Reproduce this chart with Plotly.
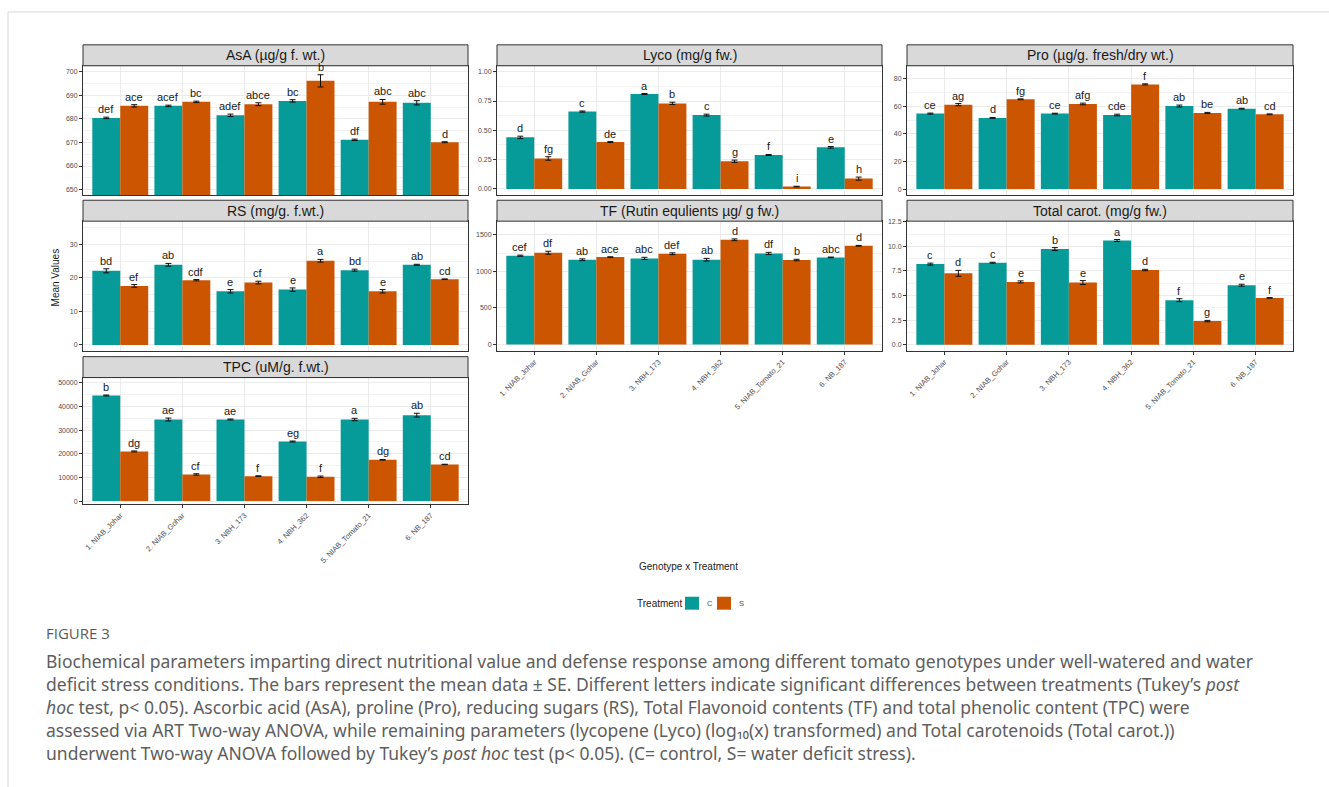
import plotly.graph_objects as go

# ---------------- data ----------------
genotypes = ["1. NIAB_Johar", "2. NIAB_Gohar", "3. NBH_173",
             "4. NBH_362", "5. NIAB_Tomato_21", "6. NB_187"]
treatments = ["C", "S"]

asa_c = [680.4, 685.5, 681.5, 687.6, 671.1, 686.8]
asa_s = [685.5, 687.2, 686.2, 696.1, 687.2, 670.1]
asa_c_se = [0.3, 0.3, 0.5, 0.5, 0.3, 0.9]
asa_s_se = [0.5, 0.3, 0.6, 2.6, 1.0, 0.2]
asa_c_let = ["def", "acef", "adef", "bc", "df", "abc"]
asa_s_let = ["ace", "bc", "abce", "b", "abc", "d"]

lyco_c = [0.44, 0.66, 0.81, 0.63, 0.29, 0.355]
lyco_s = [0.26, 0.40, 0.73, 0.236, 0.02, 0.088]
lyco_c_se = [0.01, 0.005, 0.004, 0.008, 0.004, 0.007]
lyco_s_se = [0.015, 0.004, 0.01, 0.01, 0.003, 0.013]
lyco_c_let = ["d", "c", "a", "c", "f", "e"]
lyco_s_let = ["fg", "de", "b", "g", "i", "h"]

pro_c = [54.7, 51.6, 54.7, 53.7, 60.2, 58.3]
pro_s = [61.2, 65.1, 61.7, 75.9, 55.2, 54.2]
pro_c_se = [0.4, 0.3, 0.3, 0.6, 0.7, 0.3]
pro_s_se = [0.8, 0.3, 0.6, 0.4, 0.4, 0.3]
pro_c_let = ["ce", "d", "ce", "cde", "ab", "ab"]
pro_s_let = ["ag", "fg", "afg", "f", "be", "cd"]

rs_c = [22.1, 23.9, 16.0, 16.5, 22.3, 23.9]
rs_s = [17.6, 19.3, 18.6, 25.1, 16.0, 19.6]
rs_c_se = [0.6, 0.4, 0.5, 0.5, 0.3, 0.15]
rs_s_se = [0.4, 0.2, 0.4, 0.4, 0.5, 0.1]
rs_c_let = ["bd", "ab", "e", "e", "bd", "ab"]
rs_s_let = ["ef", "cdf", "cf", "a", "e", "cd"]

tf_c = [1214, 1159, 1177, 1159, 1245, 1191]
tf_s = [1255, 1195, 1241, 1432, 1155, 1350]
tf_c_se = [8, 12, 15, 18, 15, 5]
tf_s_se = [20, 5, 12, 12, 10, 5]
tf_c_let = ["cef", "ab", "abc", "ab", "df", "abc"]
tf_s_let = ["df", "ace", "def", "d", "b", "d"]

carot_c = [8.2, 8.34, 9.73, 10.6, 4.53, 6.05]
carot_s = [7.26, 6.39, 6.32, 7.6, 2.4, 4.76]
carot_c_se = [0.1, 0.05, 0.15, 0.1, 0.15, 0.1]
carot_s_se = [0.3, 0.1, 0.2, 0.07, 0.07, 0.03]
carot_c_let = ["c", "c", "b", "a", "f", "e"]
carot_s_let = ["d", "e", "e", "d", "g", "f"]

tpc_c = [44650, 34500, 34500, 25200, 34500, 36340]
tpc_s = [21000, 11270, 10560, 10280, 17460, 15490]
tpc_c_se = [200, 600, 200, 200, 500, 800]
tpc_s_se = [200, 300, 150, 300, 150, 100]
tpc_c_let = ["b", "ae", "ae", "eg", "a", "ab"]
tpc_s_let = ["dg", "cf", "f", "f", "dg", "cd"]

# ---------------- styling ----------------
W, H = 1329, 787
TEAL = "#069a98"
ORANGE = "#cc5502"
FONT = "Liberation Sans, Arial, sans-serif"

# facet layout in pixels
cols_px = [(83, 468), (497, 882), (907, 1293)]
rows_px = [(42, 63, 193), (198, 219, 349), (355, 376, 503)]

# (title, C, S, C se, S se, C letters, S letters,
#  column, row, y-range, tick0, major step, tick format, show x labels)
panels = [
    ("AsA (µg/g f. wt.)", asa_c, asa_s, asa_c_se, asa_s_se, asa_c_let, asa_s_let,
     0, 0, [647.6, 702.5], 650, 10, "d", False),
    ("Lyco (mg/g fw.)", lyco_c, lyco_s, lyco_c_se, lyco_s_se, lyco_c_let, lyco_s_let,
     1, 0, [-0.054, 1.051], 0, 0.25, ".2f", False),
    ("Pro (µg/g. fresh/dry wt.)", pro_c, pro_s, pro_c_se, pro_s_se, pro_c_let, pro_s_let,
     2, 0, [-4.5, 89.4], 0, 20, "d", False),
    ("RS (mg/g. f.wt.)", rs_c, rs_s, rs_c_se, rs_s_se, rs_c_let, rs_s_let,
     0, 1, [-1.7, 36.9], 0, 10, "d", False),
    ("TF (Rutin equlients µg/ g fw.)", tf_c, tf_s, tf_c_se, tf_s_se, tf_c_let, tf_s_let,
     1, 1, [-86, 1687], 0, 500, "d", True),
    ("Total carot. (mg/g fw.)", carot_c, carot_s, carot_c_se, carot_s_se, carot_c_let, carot_s_let,
     2, 1, [-0.61, 12.57], 0, 2.5, ".1f", True),
    ("TPC (uM/g. f.wt.)", tpc_c, tpc_s, tpc_c_se, tpc_s_se, tpc_c_let, tpc_s_let,
     0, 2, [-1260, 52230], 0, 10000, "d", True),
]

fig = go.Figure()
positions = list(range(1, len(genotypes) + 1))
annotations = []
shapes = []


def px_x(p):
    return p / W


def px_y(p):
    return 1 - p / H


for k, (title, c_vals, s_vals, c_se, s_se, c_let, s_let,
        col, row, yr, t0, dt, fmt, show_x) in enumerate(panels):
    idx = k + 1
    xa = "x" if idx == 1 else f"x{idx}"
    ya = "y" if idx == 1 else f"y{idx}"
    x0, x1 = cols_px[col]
    s_top, p_top, p_bot = rows_px[row]

    for name, vals, se, colr in (("C", c_vals, c_se, TEAL), ("S", s_vals, s_se, ORANGE)):
        fig.add_trace(go.Bar(
            x=positions, y=vals, name=name, marker=dict(color=colr, line=dict(width=0)),
            error_y=dict(type="data", array=se, visible=True, color="#111111",
                         thickness=1, width=3),
            xaxis=xa, yaxis=ya, showlegend=False, offsetgroup=name,
        ))

    # significance letters above each error bar
    for i, p in enumerate(positions):
        for off, vals, se, lets in ((-0.225, c_vals, c_se, c_let), (0.225, s_vals, s_se, s_let)):
            annotations.append(dict(
                x=p + off, y=vals[i] + se[i], xref=xa, yref=ya, text=lets[i],
                showarrow=False, yanchor="bottom", yshift=0,
                font=dict(family=FONT, size=11, color="#1a1a1a"),
            ))

    axis_x = dict(
        domain=[px_x(x0), px_x(x1)], anchor=ya, range=[0.4, 6.6],
        tickmode="array", tickvals=positions,
        ticktext=genotypes if show_x else [""] * len(positions),
        showticklabels=show_x, tickangle=-45,
        ticks="outside" if show_x else "", ticklen=3, tickcolor="#333333",
        tickfont=dict(family=FONT, size=7.5, color="#4d4d4d"),
        showgrid=True, gridcolor="#ebebeb", gridwidth=1,
        showline=True, mirror=True, linecolor="#333333", linewidth=1,
        zeroline=False, fixedrange=True,
    )
    axis_y = dict(
        domain=[px_y(p_bot), px_y(p_top)], anchor=xa, range=yr,
        tickmode="linear", tick0=t0, dtick=dt, tickformat=fmt,
        ticks="outside", ticklen=3, tickcolor="#333333",
        tickfont=dict(family=FONT, size=7, color="#4d4d4d"),
        showgrid=True, gridcolor="#ebebeb", gridwidth=1,
        minor=dict(tick0=t0, dtick=dt / 2, showgrid=True, gridcolor="#f3f3f3",
                   gridwidth=0.6, ticks=""),
        showline=True, mirror=True, linecolor="#333333", linewidth=1,
        zeroline=False, fixedrange=True,
    )
    fig.update_layout(**{("xaxis" if idx == 1 else f"xaxis{idx}"): axis_x,
                         ("yaxis" if idx == 1 else f"yaxis{idx}"): axis_y})

    # facet strip
    shapes.append(dict(type="rect", xref="paper", yref="paper",
                       x0=px_x(x0), x1=px_x(x1), y0=px_y(p_top), y1=px_y(s_top),
                       fillcolor="#d9d9d9", line=dict(color="#333333", width=1), layer="above"))
    annotations.append(dict(x=px_x((x0 + x1) / 2), y=px_y((s_top + p_top) / 2),
                            xref="paper", yref="paper", text=title, showarrow=False,
                            xanchor="center", yanchor="middle",
                            font=dict(family=FONT, size=14, color="#1a1a1a")))

# axis titles
annotations.append(dict(x=px_x(48), y=px_y(275), xref="paper", yref="paper",
                        text="Mean Values", showarrow=False, textangle=-90,
                        font=dict(family=FONT, size=10, color="#1a1a1a")))
annotations.append(dict(x=px_x(689), y=px_y(573), xref="paper", yref="paper",
                        text="Genotype x Treatment", showarrow=False,
                        font=dict(family=FONT, size=10, color="#1a1a1a")))

# treatment legend (key boxes + labels)
annotations.append(dict(x=px_x(635), y=px_y(603), xref="paper", yref="paper",
                        xanchor="left", yanchor="middle", text="Treatment", showarrow=False,
                        font=dict(family=FONT, size=10, color="#1a1a1a")))
for lbl, colr, bx in ((treatments[0], TEAL, 685), (treatments[1], ORANGE, 717)):
    shapes.append(dict(type="rect", xref="paper", yref="paper",
                       x0=px_x(bx), x1=px_x(bx + 14), y0=px_y(609), y1=px_y(596),
                       fillcolor=colr, line=dict(width=0)))
    annotations.append(dict(x=px_x(bx + 20), y=px_y(603), xref="paper", yref="paper",
                            xanchor="left", yanchor="middle", text=lbl, showarrow=False,
                            font=dict(family=FONT, size=7.5, color="#4d4d4d")))

# caption
annotations.append(dict(x=px_x(44), y=px_y(632), xref="paper", yref="paper",
                        xanchor="left", yanchor="middle", text="FIGURE 3", showarrow=False,
                        font=dict(family="Open Sans, sans-serif", size=15, color="#5a5a5a")))
caption_lines = [
    "Biochemical parameters imparting direct nutritional value and defense response among different tomato genotypes under well-watered and water",
    "deficit stress conditions. The bars represent the mean data ± SE. Different letters indicate significant differences between treatments (Tukey’s <i>post</i>",
    "<i>hoc</i> test, p&lt; 0.05). Ascorbic acid (AsA), proline (Pro), reducing sugars (RS), Total Flavonoid contents (TF) and total phenolic content (TPC) were",
    "assessed via ART Two-way ANOVA, while remaining parameters (lycopene (Lyco) (log₁₀(x) transformed) and Total carotenoids (Total carot.))",
    "underwent Two-way ANOVA followed by Tukey’s <i>post hoc</i> test (p&lt; 0.05). (C= control, S= water deficit stress).",
]
for j, line in enumerate(caption_lines):
    annotations.append(dict(x=px_x(44), y=px_y(661 + 23 * j), xref="paper", yref="paper",
                            xanchor="left", yanchor="middle", text=line, showarrow=False,
                            font=dict(family="Noto Sans, sans-serif", size=17.5, color="#5e5e5e")))

# page frame lines
shapes.append(dict(type="line", xref="paper", yref="paper", x0=px_x(8), x1=1,
                   y0=px_y(9), y1=px_y(9), line=dict(color="#d6d6d6", width=1)))
shapes.append(dict(type="line", xref="paper", yref="paper", x0=px_x(8), x1=px_x(8),
                   y0=px_y(9), y1=0, line=dict(color="#d6d6d6", width=1)))

fig.update_layout(
    width=W, height=H, autosize=False,
    margin=dict(l=0, r=0, t=0, b=0),
    paper_bgcolor="white", plot_bgcolor="white",
    barmode="group", bargap=0.1, bargroupgap=0,
    annotations=annotations, shapes=shapes,
    showlegend=False,
    font=dict(family=FONT),
)

fig.write_html("out.html")
